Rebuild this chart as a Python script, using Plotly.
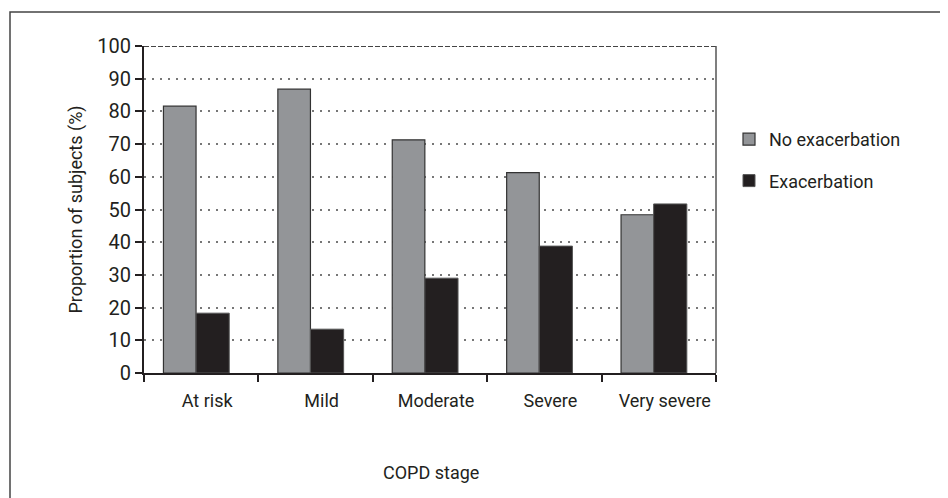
import plotly.graph_objects as go

categories = ["At risk", "Mild", "Moderate", "Severe", "Very severe"]
no_exacerbation = [81.6, 86.8, 71.3, 61.3, 48.4]
exacerbation = [18.3, 13.4, 29.0, 38.8, 51.7]
y_ticks = [0, 10, 20, 30, 40, 50, 60, 70, 80, 90, 100]

FONT = "Roboto, Liberation Sans Narrow, Arial Narrow, sans-serif"

W, H = 948, 498
OFF = 8  # page body margin
# plot area in page coordinates: x 144..716, y 46..373
L = 144 - OFF
T = 46 - OFF
R = W - (716 - OFF)
B = H - (373 - OFF)
pw, ph = W - L - R, H - T - B

def px_x(x):
    return (x - OFF - L) / pw

def px_y(y):
    return (H - B - (y - OFF)) / ph

fig = go.Figure()
fig.add_trace(go.Bar(
    x=categories, y=no_exacerbation, name="No exacerbation",
    marker=dict(color="#939598", line=dict(color="#333333", width=1.2)),
    width=0.285, offset=-0.33, legendgroup="a",
))
fig.add_trace(go.Bar(
    x=categories, y=exacerbation, name="Exacerbation",
    marker=dict(color="#231f20", line=dict(color="#555555", width=1)),
    width=0.29, offset=-0.045, legendgroup="b",
))

fig.update_layout(
    width=W, height=H,
    margin=dict(l=L, r=R, t=T, b=B),
    paper_bgcolor="white", plot_bgcolor="white",
    font=dict(family=FONT, color="#231f20", size=18),
    barmode="overlay",
    showlegend=True,
    legend=dict(
        x=px_x(729), y=px_y(121), xanchor="left", yanchor="top",
        font=dict(size=18, family=FONT), tracegroupgap=15,
        bgcolor="rgba(0,0,0,0)", itemwidth=30,
    ),
    xaxis=dict(
        type="category", tickson="boundaries", ticks="outside", ticklen=7,
        tickcolor="#231f20", tickwidth=1.5,
        showline=True, linecolor="#231f20", linewidth=2,
        showgrid=False, tickfont=dict(size=18, family=FONT),
        ticklabelshift=6, ticklabelstandoff=10,
        range=[-0.5, 4.5],
    ),
    yaxis=dict(
        range=[0, 100], tickvals=y_ticks, ticks="outside", ticklen=7,
        tickcolor="#231f20", tickwidth=1.5,
        showline=True, linecolor="#231f20", linewidth=2,
        showgrid=True, gridcolor="#777777", gridwidth=2, griddash="2px,6px",
        zeroline=False, tickfont=dict(size=20, family=FONT),
        ticklabelstandoff=0,
        title=dict(text="Proportion of subjects (%)", font=dict(size=18, family=FONT), standoff=10),
    ),
    shapes=[
        dict(type="line", xref="x domain", yref="y", x0=0, x1=1, y0=100, y1=100,
             line=dict(color="#444444", width=2, dash="5px,2px")),
        dict(type="line", xref="x domain", yref="y domain", x0=1, x1=1, y0=0, y1=1,
             line=dict(color="#555555", width=1.5)),
        dict(type="rect", xref="paper", yref="paper",
             x0=px_x(10), x1=px_x(W + 20), y0=px_y(H + 20), y1=px_y(12),
             line=dict(color="#444444", width=1.5), layer="below"),
    ],
    annotations=[
        dict(text="COPD stage", xref="paper", yref="paper", x=px_x(431), y=px_y(472),
             xanchor="center", yanchor="middle", showarrow=False,
             font=dict(size=18, family=FONT)),
    ],
)

fig.write_html("out.html")
